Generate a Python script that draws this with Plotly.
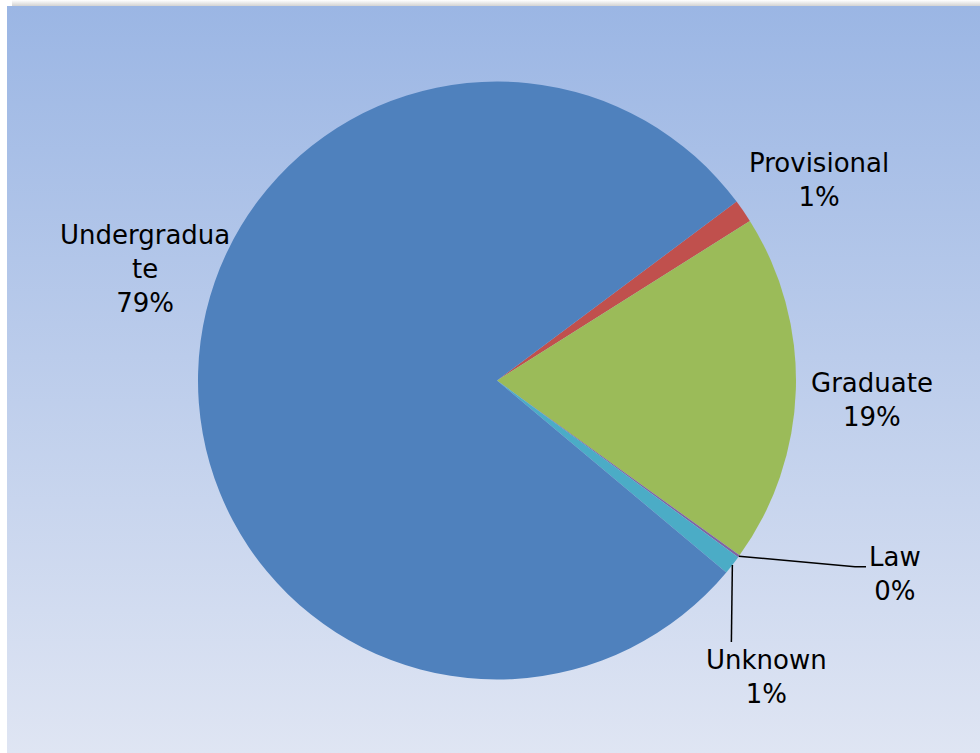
import math
import base64
import plotly.graph_objects as go

# Enrollment share by category (percent of total)
categories = ["Provisional", "Graduate", "Law", "Unknown", "Undergraduate"]
shares = [1.25, 18.9, 0.12, 1.03, 78.7]
colors = ["#C0504D", "#9BBB59", "#8064A2", "#4BACC6", "#4F81BD"]
start_angle = 53.25  # degrees clockwise from 12 o'clock where the first slice begins

W, H = 980, 753
CX, CY, R = 497.0, 380.5, 299.0  # pie centre and radius in pixels

def px(x):
    return x / W

def py(y):
    return 1 - y / H

fig = go.Figure()
fig.add_trace(go.Pie(
    labels=categories,
    values=shares,
    sort=False,
    direction="clockwise",
    rotation=start_angle,
    marker=dict(colors=colors, line=dict(width=0)),
    textinfo="none",
    hoverinfo="label+percent",
    showlegend=False,
    domain=dict(x=[px(CX - R), px(CX + R)], y=[py(CY + R), py(CY - R)]),
))

# Background: chart area with a vertical blue gradient and a soft top shadow
bg_svg = (
    '<svg xmlns="http://www.w3.org/2000/svg" width="980" height="753" viewBox="0 0 980 753">'
    '<defs>'
    '<linearGradient id="g" x1="0" y1="0" x2="0" y2="1">'
    '<stop offset="0" stop-color="#9BB6E4"/>'
    '<stop offset="1" stop-color="#DFE5F3"/>'
    '</linearGradient>'
    '<linearGradient id="s" x1="0" y1="0" x2="0" y2="1">'
    '<stop offset="0" stop-color="#FFFFFF"/>'
    '<stop offset="1" stop-color="#D2D2D2"/>'
    '</linearGradient>'
    '</defs>'
    '<rect x="0" y="0" width="980" height="753" fill="#FFFFFF"/>'
    '<rect x="12" y="0" width="968" height="6" fill="url(#s)"/>'
    '<rect x="7" y="6" width="973" height="747" fill="url(#g)"/>'
    '</svg>'
)
bg_src = "data:image/svg+xml;base64," + base64.b64encode(bg_svg.encode()).decode()

shapes = []

# Mid-angle of each slice, from the data
total = sum(shares)
mids = {}
acc = start_angle
for name, v in zip(categories, shares):
    span = v / total * 360
    mids[name] = acc + span / 2
    acc += span

def edge_point(name):
    a = math.radians(mids[name])
    return CX + R * math.sin(a), CY - R * math.cos(a)

# Leader lines for the two thin slices
lx, ly = edge_point("Law")
shapes.append(dict(type="path", xref="paper", yref="paper",
                   path="M %f %f L %f %f L %f %f" % (px(lx), py(ly), px(855), py(566.7), px(866), py(566.7)),
                   line=dict(color="black", width=1.5)))
ux, uy = edge_point("Unknown")
shapes.append(dict(type="path", xref="paper", yref="paper",
                   path="M %f %f L %f %f" % (px(ux), py(uy), px(ux - 1), py(642)),
                   line=dict(color="black", width=1.5)))

# Data labels: category name and rounded percentage
label_text = {
    "Undergraduate": "Undergradua<br>te",
    "Provisional": "Provisional",
    "Graduate": "Graduate",
    "Law": "Law",
    "Unknown": "Unknown",
}
label_pos = {
    "Undergraduate": (145, 269),
    "Provisional": (819, 180),
    "Graduate": (872, 400),
    "Law": (895, 574),
    "Unknown": (766, 677),
}
annotations = []
for name, v in zip(categories, shares):
    x, y = label_pos[name]
    pct = round(v / total * 100)
    annotations.append(dict(
        x=px(x), y=py(y), xref="paper", yref="paper",
        text="%s<br>%d%%" % (label_text[name], pct),
        showarrow=False, xanchor="center", yanchor="middle", align="center",
        font=dict(family="DejaVu Sans", size=26, color="black"),
    ))

fig.update_layout(
    width=W, height=H,
    margin=dict(l=0, r=0, t=0, b=0),
    paper_bgcolor="white",
    plot_bgcolor="white",
    images=[dict(source=bg_src, xref="paper", yref="paper", x=0, y=1,
                 sizex=1, sizey=1, xanchor="left", yanchor="top",
                 sizing="stretch", layer="below")],
    shapes=shapes,
    annotations=annotations,
    showlegend=False,
)

fig.write_html("out.html")
